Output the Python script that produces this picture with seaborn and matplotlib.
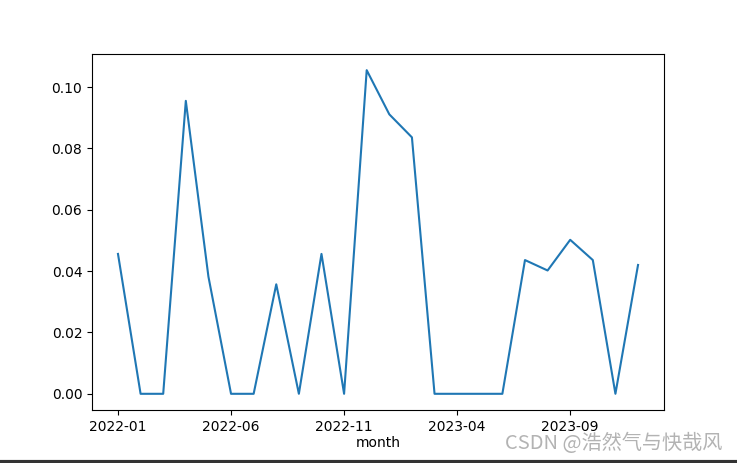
import seaborn as sns
import matplotlib.pyplot as plt
import pandas as pd

months = ["2022-01", "2022-02", "2022-03", "2022-04", "2022-05", "2022-06",
          "2022-07", "2022-08", "2022-09", "2022-10", "2022-11", "2022-12",
          "2023-01", "2023-02", "2023-03", "2023-04", "2023-05", "2023-06",
          "2023-07", "2023-08", "2023-09", "2023-10", "2023-11", "2023-12"]
rate = [0.0456, 0.0, 0.0, 0.0955, 0.0382, 0.0, 0.0, 0.0357, 0.0, 0.0456, 0.0, 0.1055,
        0.0911, 0.0836, 0.0, 0.0, 0.0, 0.0, 0.0436, 0.0402, 0.0502, 0.0436, 0.0, 0.0420]

df = pd.DataFrame({"month": months, "rate": rate})
df["pos"] = range(len(df))

fig, ax = plt.subplots(figsize=(7.37, 4.63), dpi=100)
fig.subplots_adjust(left=0.1248, right=0.901, top=0.8834, bottom=0.1145)

sns.lineplot(x="pos", y="rate", data=df, ax=ax)

tick_idx = list(range(0, len(months), 5))
ax.set_xticks(tick_idx)
ax.set_xticklabels([months[i] for i in tick_idx])
ax.set_xlabel("month", labelpad=1.5)
ax.set_ylabel("")

# watermark
fig.text(0.98, 0.043, "CSDN @浩然气与快哉风", ha="right", va="center",
         fontsize=14.5, color="#b3b3b3", family=["Noto Sans CJK SC", "DejaVu Sans"])
fig.add_artist(plt.Line2D([0, 1], [0.003, 0.003], color="#333333", lw=3,
                          transform=fig.transFigure))

plt.savefig("out.png", dpi=100)
